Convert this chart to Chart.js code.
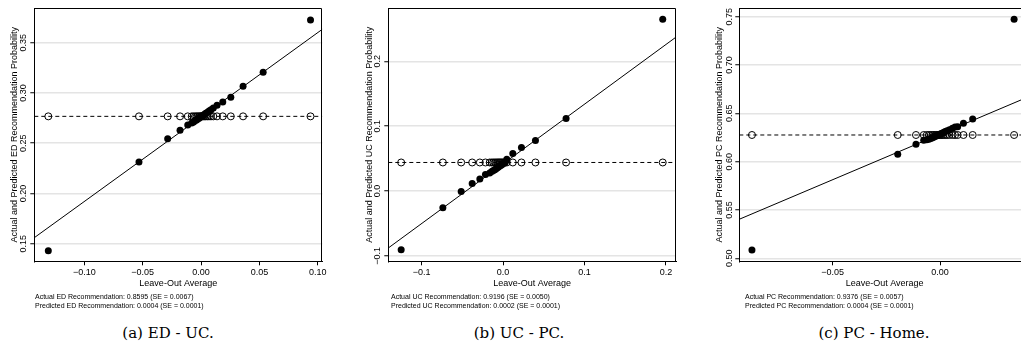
<!DOCTYPE html>
<html>
<head>
<meta charset="utf-8">
<script src="https://cdn.jsdelivr.net/npm/chart.js@4.4.1/dist/chart.umd.min.js"></script>
<style>
  html, body { margin: 0; padding: 0; background: #fff; overflow: hidden; }
  #wrap { position: relative; width: 1021px; height: 348px; overflow: hidden; background: #fff; }
  canvas { position: absolute; top: 0; }
  .note { position: absolute; top: 292px; font-family: "Liberation Sans", Arial, sans-serif; font-size: 7px; line-height: 9px; color: #000; white-space: nowrap; }
  .caption { position: absolute; top: 323px; width: 200px; text-align: center; font-family: "DejaVu Serif", serif; font-size: 15px; line-height: 20px; color: #000; white-space: nowrap; }
</style>
</head>
<body>
<div id="wrap">
  <canvas id="grafikED" width="330" height="300" style="left:0px"></canvas>
  <canvas id="grafikUC" width="345" height="300" style="left:340px"></canvas>
  <canvas id="grafikPC" width="345" height="300" style="left:690px"></canvas>

  <div class="note" style="left:35px">Actual ED Recommendation: 0.8595 (SE = 0.0067)<br>Predicted ED Recommendation: 0.0004 (SE = 0.0001)</div>
  <div class="note" style="left:391px">Actual UC Recommendation: 0.9196 (SE = 0.0050)<br>Predicted UC Recommendation: 0.0002 (SE = 0.0001)</div>
  <div class="note" style="left:745px">Actual PC Recommendation: 0.9376 (SE = 0.0057)<br>Predicted PC Recommendation: 0.0004 (SE = 0.0001)</div>

  <div class="caption" style="left:68px">(a) ED - UC.</div>
  <div class="caption" style="left:419px">(b) UC - PC.</div>
  <div class="caption" style="left:774px">(c) PC - Home.</div>
</div>
<script>
// (a) ED - UC
const leaveOutED = [-0.1309, -0.0532, -0.0286, -0.0180, -0.0114, -0.0080, -0.0064, -0.0050, -0.0038,
    -0.0027, -0.0017, -0.0008, 0.0000, 0.0009, 0.0018, 0.0028, 0.0040, 0.0053, 0.0068, 0.0085,
    0.0105, 0.0137, 0.0186, 0.0255, 0.0360, 0.0532, 0.0938];
const actualED = [0.1431, 0.2313, 0.2545, 0.2628, 0.2682, 0.2702, 0.2712, 0.2725, 0.2731,
    0.2742, 0.2748, 0.2757, 0.2765, 0.2770, 0.2779, 0.2786, 0.2797, 0.2806, 0.2821, 0.2832,
    0.2851, 0.2877, 0.2910, 0.2956, 0.3066, 0.3205, 0.3726];
const predictedED = [0.2767, 0.2767, 0.2767, 0.2767, 0.2767, 0.2767, 0.2767, 0.2767, 0.2767,
    0.2767, 0.2767, 0.2767, 0.2767, 0.2767, 0.2767, 0.2767, 0.2767, 0.2767, 0.2767, 0.2767,
    0.2767, 0.2767, 0.2767, 0.2767, 0.2767, 0.2767, 0.2767];
const fitLineED = [0.1560, 0.3633];
const xRangeED = [-0.1429, 0.1039];
const yRangeED = [0.1325, 0.3842];
const xTicksED = [-0.10, -0.05, 0.00, 0.05, 0.10];
const yTicksED = [0.15, 0.20, 0.25, 0.30, 0.35];

// (b) UC - PC
const leaveOutUC = [-0.1252, -0.0740, -0.0515, -0.0380, -0.0286, -0.0217, -0.0165, -0.0140, -0.0120,
    -0.0102, -0.0086, -0.0071, -0.0057, -0.0044, -0.0031, -0.0018, -0.0005, 0.0008, 0.0022, 0.0045,
    0.0119, 0.0225, 0.0397, 0.0773, 0.1960];
const actualUC = [-0.0904, -0.0257, -0.0006, 0.0117, 0.0185, 0.0256, 0.0278, 0.0300, 0.0318,
    0.0330, 0.0345, 0.0358, 0.0372, 0.0385, 0.0396, 0.0405, 0.0418, 0.0428, 0.0442, 0.0490,
    0.0579, 0.0672, 0.0780, 0.1119, 0.2650];
const predictedUC = [0.0441, 0.0441, 0.0441, 0.0441, 0.0441, 0.0441, 0.0441, 0.0441, 0.0441,
    0.0441, 0.0441, 0.0441, 0.0441, 0.0441, 0.0441, 0.0441, 0.0441, 0.0441, 0.0441, 0.0441,
    0.0441, 0.0441, 0.0441, 0.0441, 0.0441];
const fitLineUC = [-0.0877, 0.2373];
const xRangeUC = [-0.141, 0.2123];
const yRangeUC = [-0.1082, 0.2817];
const xTicksUC = [-0.1, 0.0, 0.1, 0.2];
const yTicksUC = [-0.1, 0.0, 0.1, 0.2];

// (c) PC - Home
const leaveOutPC = [-0.0876, -0.0197, -0.0112, -0.0076, -0.0062, -0.0052, -0.0043, -0.0035, -0.0028,
    -0.0021, -0.0015, -0.0009, -0.0003, 0.0003, 0.0009, 0.0016, 0.0024, 0.0033, 0.0044, 0.0058,
    0.0070, 0.0082, 0.0109, 0.0152, 0.0345];
const actualPC = [0.5086, 0.6077, 0.6180, 0.6222, 0.6228, 0.6232, 0.6240, 0.6248, 0.6255,
    0.6262, 0.6268, 0.6275, 0.6281, 0.6288, 0.6295, 0.6302, 0.6311, 0.6320, 0.6331, 0.6346,
    0.6358, 0.6362, 0.6397, 0.6442, 0.7474];
const predictedPC = [0.6276, 0.6276, 0.6276, 0.6276, 0.6276, 0.6276, 0.6276, 0.6276, 0.6276,
    0.6276, 0.6276, 0.6276, 0.6276, 0.6276, 0.6276, 0.6276, 0.6276, 0.6276, 0.6276, 0.6276,
    0.6276, 0.6276, 0.6276, 0.6276, 0.6276];
const fitLinePC = [0.5404, 0.6678];
const xRangePC = [-0.0935, 0.0419];
const yRangePC = [0.4969, 0.7587];
const xTicksPC = [-0.05, 0.00];
const yTicksPC = [0.50, 0.55, 0.60, 0.65, 0.70, 0.75];

const hurufSans = "'Liberation Sans', Arial, Helvetica, sans-serif";

function formatAngka(v, dec) {
    let s = Math.abs(v).toFixed(dec);
    return (v < -1e-9 ? '\u2212' : '') + s;
}

// draws the top and right sides of the plot box
const kotakPlot = {
    id: 'kotakPlot',
    afterDatasetsDraw(chart) {
        let a = chart.chartArea;
        let ctx = chart.ctx;
        ctx.save();
        ctx.strokeStyle = '#000';
        ctx.lineWidth = 1;
        ctx.beginPath();
        ctx.moveTo(Math.round(a.left) + 0.5, Math.round(a.top) + 0.5);
        ctx.lineTo(Math.round(a.right) - 0.5, Math.round(a.top) + 0.5);
        ctx.lineTo(Math.round(a.right) - 0.5, Math.round(a.bottom));
        ctx.stroke();
        ctx.restore();
    }
};

function buatGrafik(id, p) {
    let titikAktual = p.x.map((v, i) => ({ x: v, y: p.actual[i] }));
    let titikPrediksi = p.x.map((v, i) => ({ x: v, y: p.pred[i] }));
    let predMean = p.pred[0];

    new Chart(document.getElementById(id), {
        type: 'scatter',
        data: {
            datasets: [{
                type: 'line',
                data: [{ x: p.xRange[0], y: predMean }, { x: p.xRange[1], y: predMean }],
                borderColor: '#000',
                borderWidth: 1,
                borderDash: [4, 3],
                pointRadius: 0,
                order: 0
            }, {
                type: 'line',
                data: [{ x: p.xRange[0], y: p.fit[0] }, { x: p.xRange[1], y: p.fit[1] }],
                borderColor: '#000',
                borderWidth: 1,
                pointRadius: 0,
                order: 1
            }, {
                data: titikPrediksi,
                pointRadius: 3.5,
                pointBackgroundColor: 'rgba(255,255,255,0)',
                pointBorderColor: '#000',
                pointBorderWidth: 1,
                clip: false,
                order: 2
            }, {
                data: titikAktual,
                pointRadius: 3.5,
                pointBackgroundColor: '#000',
                pointBorderColor: '#000',
                pointBorderWidth: 0,
                clip: false,
                order: 3
            }]
        },
        options: {
            responsive: false,
            animation: false,
            devicePixelRatio: 1,
            layout: { padding: { left: 0, top: 8.3, right: p.padKanan, bottom: 0 } },
            plugins: { legend: { display: false }, tooltip: { enabled: false } },
            scales: {
                x: {
                    type: 'linear',
                    min: p.xRange[0],
                    max: p.xRange[1],
                    afterBuildTicks: function (s) { s.ticks = p.xTicks.map(v => ({ value: v })); },
                    afterFit: function (s) { s.height = 38.7; },
                    ticks: {
                        autoSkip: false,
                        maxRotation: 0,
                        padding: 2,
                        color: '#000',
                        font: { family: hurufSans, size: 9 },
                        callback: function (value) { return formatAngka(value, p.dec); }
                    },
                    grid: { drawOnChartArea: false, tickLength: 4, tickColor: '#000', tickWidth: 1 },
                    border: { color: '#000', width: 1 },
                    title: {
                        display: true,
                        text: 'Leave-Out Average',
                        color: '#000',
                        font: { family: hurufSans, size: 9 },
                        padding: { top: 0, bottom: 10.6 }
                    }
                },
                y: {
                    type: 'linear',
                    min: p.yRange[0],
                    max: p.yRange[1],
                    afterBuildTicks: function (s) { s.ticks = p.yTicks.map(v => ({ value: v })); },
                    afterFit: function (s) { s.width = p.lebarY; },
                    ticks: {
                        autoSkip: false,
                        minRotation: 90,
                        maxRotation: 90,
                        crossAlign: 'center',
                        padding: p.padTickY,
                        color: '#000',
                        font: { family: hurufSans, size: 9 },
                        callback: function (value) { return formatAngka(value, p.dec); }
                    },
                    grid: { color: '#e4e4e4', lineWidth: 1.5, tickLength: 4, tickColor: '#000', tickWidth: 1 },
                    border: { color: '#000', width: 1 },
                    title: {
                        display: true,
                        text: p.judulY,
                        color: '#000',
                        font: { family: hurufSans, size: 9 },
                        padding: { top: p.padJudulY, bottom: 0 }
                    }
                }
            }
        },
        plugins: [kotakPlot]
    });
}

buatGrafik('grafikED', {
    x: leaveOutED, actual: actualED, pred: predictedED, fit: fitLineED,
    xRange: xRangeED, yRange: yRangeED, xTicks: xTicksED, yTicks: yTicksED, dec: 2,
    judulY: 'Actual and Predicted ED Recommendation Probability',
    lebarY: 34.3, padKanan: 7.7, padTickY: -1.75, padJudulY: 9.6
});
buatGrafik('grafikUC', {
    x: leaveOutUC, actual: actualUC, pred: predictedUC, fit: fitLineUC,
    xRange: xRangeUC, yRange: yRangeUC, xTicks: xTicksUC, yTicks: yTicksUC, dec: 1,
    judulY: 'Actual and Predicted UC Recommendation Probability',
    lebarY: 48.3, padKanan: 9, padTickY: -2.3, padJudulY: 24.6
});
buatGrafik('grafikPC', {
    x: leaveOutPC, actual: actualPC, pred: predictedPC, fit: fitLinePC,
    xRange: xRangePC, yRange: yRangePC, xTicks: xTicksPC, yTicks: yTicksPC, dec: 2,
    judulY: 'Actual and Predicted PC Recommendation Probability',
    lebarY: 49.3, padKanan: 5, padTickY: -2.75, padJudulY: 23.9
});
</script>
</body>
</html>
